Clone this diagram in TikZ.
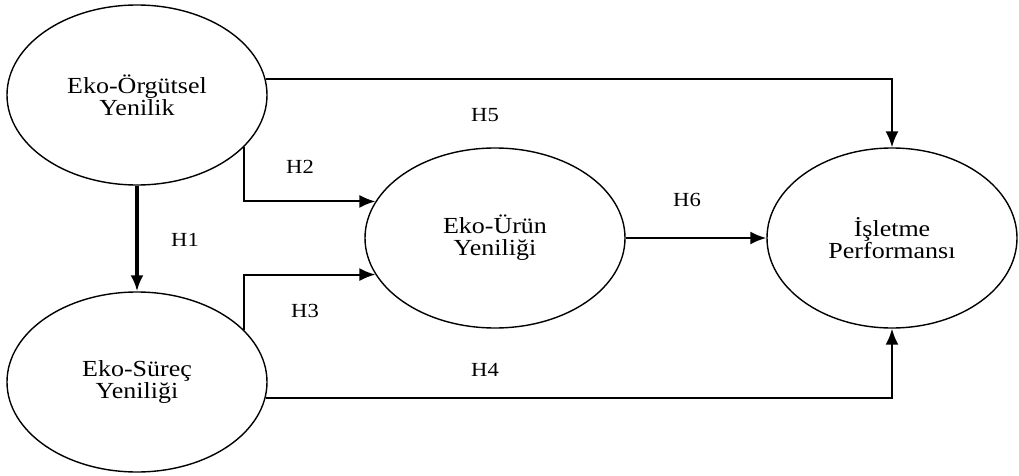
\documentclass[tikz,border=0pt]{standalone}
\usepackage{fontspec}
\setmainfont{Liberation Serif}[FakeStretch=1.13]
\usetikzlibrary{shapes.geometric,arrows.meta}

\begin{document}
\begin{tikzpicture}[x=1pt,y=-1pt,
  construct/.style={draw, ellipse, line width=1.4pt, inner sep=0pt,
    minimum width=260pt, minimum height=180pt, align=center,
    font=\fontsize{23}{22}\selectfont},
  path/.style={line width=2pt, -{Latex[length=16pt,width=13pt]}},
  hyp/.style={font=\fontsize{20}{20}\selectfont}]

  \useasboundingbox (0,0) rectangle (1019,476);

  \node[construct] (org) at (137,95) {Eko-Örgütsel\\Yenilik};
  \node[construct] (sur) at (137,382) {Eko-Süreç\\Yeniliği};
  \node[construct] (urun) at (495,238) {Eko-Ürün\\Yeniliği};
  \node[construct, minimum width=250pt] (perf) at (892,238) {İşletme\\Performansı};

  \draw[path, line width=3.4pt] (org.south) -- (sur.north);
  \draw[path] (org.-26) |- (urun.163);
  \draw[path] (sur.26) |- (urun.197);
  \draw[path] (org.7) -| (perf.north);
  \draw[path] (sur.-7) -| (perf.south);
  \draw[path] (urun.east) -- (perf.west);

  \node[hyp] (h1) at (185,240) {H1};
  \node[hyp] (h2) at (300,167) {H2};
  \node[hyp] (h3) at (305,311) {H3};
  \node[hyp] (h4) at (485,370) {H4};
  \node[hyp] (h5) at (485,115) {H5};
  \node[hyp] (h6) at (687,200) {H6};
  \end{tikzpicture}
\end{document}
